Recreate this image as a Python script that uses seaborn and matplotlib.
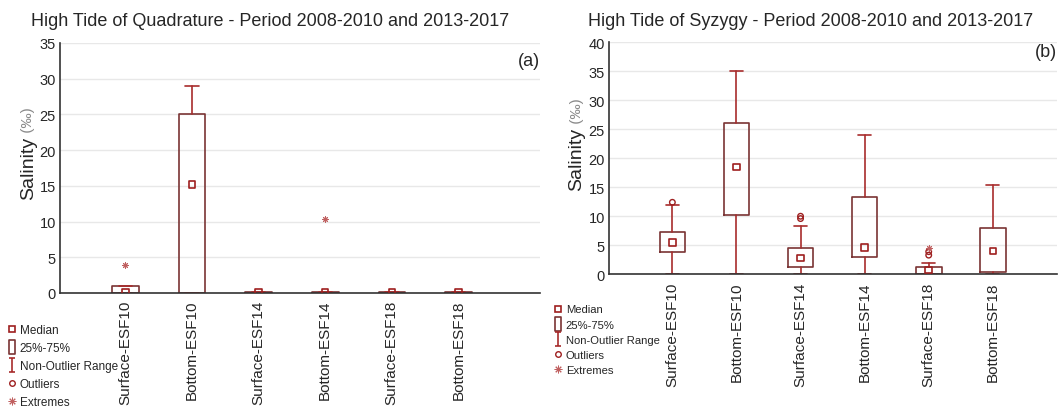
import matplotlib
matplotlib.use('Agg')
import matplotlib.pyplot as plt
from matplotlib.lines import Line2D
from matplotlib.path import Path
import seaborn as sns

# station / depth categories (same for both panels)
categories = ['Surface-ESF10', 'Bottom-ESF10', 'Surface-ESF14',
              'Bottom-ESF14', 'Surface-ESF18', 'Bottom-ESF18']

# (a) high tide of quadrature
quad_q1 = [0.0, 0.0, 0.0, 0.0, 0.0, 0.0]
quad_q3 = [1.0, 25.0, 0.15, 0.15, 0.15, 0.15]
quad_med = [0.15, 15.2, 0.1, 0.1, 0.1, 0.1]
quad_whislo = [0.0, 0.0, 0.0, 0.0, 0.0, 0.0]
quad_whishi = [1.0, 28.9, 0.15, 0.15, 0.15, 0.15]
quad_out_pos = []
quad_out_val = []
quad_ext_pos = [0, 3]
quad_ext_val = [3.9, 10.4]

# (b) high tide of syzygy
syz_q1 = [3.9, 10.3, 1.25, 2.9, 0.0, 0.35]
syz_q3 = [7.35, 26.0, 4.5, 13.3, 1.2, 7.9]
syz_med = [5.45, 18.5, 2.8, 4.65, 0.75, 4.05]
syz_whislo = [0.0, 0.0, 0.0, 0.0, 0.0, 0.0]
syz_whishi = [11.9, 35.0, 8.4, 24.0, 2.0, 15.3]
syz_out_pos = [0, 2, 2, 4, 4]
syz_out_val = [12.4, 9.6, 10.0, 3.3, 3.9]
syz_ext_pos = [4]
syz_ext_val = [4.6]

BOX_COLOR = '#7a3434'
WHISK_COLOR = '#a82c2c'
MED_COLOR = '#9e1f1f'
EXT_COLOR = '#c06060'

sns.set_style('white')
plt.rcParams['font.family'] = ['Liberation Sans', 'DejaVu Sans']

fig = plt.figure(figsize=(10.59, 4.10), dpi=100)
ax_a = fig.add_axes([0.0567, 0.283, 0.453, 0.61])
ax_b = fig.add_axes([0.575, 0.3285, 0.423, 0.5665])


def draw_panel(ax, q1, q3, med, wlo, whi, out_pos, out_val, ext_pos, ext_val, ymax):
    pos = list(range(len(categories)))
    stats = []
    for i in pos:
        stats.append(dict(med=med[i], q1=q1[i], q3=q3[i], whislo=wlo[i], whishi=whi[i], fliers=[]))
    ax.bxp(stats, positions=pos, widths=0.4, capwidths=0.2, showfliers=False,
           boxprops=dict(color=BOX_COLOR, linewidth=1.2),
           whiskerprops=dict(color=WHISK_COLOR, linewidth=1.2),
           capprops=dict(color=WHISK_COLOR, linewidth=1.2),
           medianprops=dict(linewidth=0))
    sns.scatterplot(x=pos, y=med, ax=ax, marker='s', s=22, facecolor='none',
                    edgecolor=MED_COLOR, linewidth=1.2, zorder=4)
    if out_pos:
        sns.scatterplot(x=out_pos, y=out_val, ax=ax, marker='o', s=16, facecolor='none',
                        edgecolor=MED_COLOR, linewidth=1.0, zorder=4)
    if ext_pos:
        sns.scatterplot(x=ext_pos, y=ext_val, ax=ax, marker=(8, 2, 0), s=18,
                        color=EXT_COLOR, linewidth=0.7, zorder=4)

    ax.set_ylim(0, ymax)
    ax.set_yticks(range(0, ymax + 1, 5))
    ax.set_xticks(pos)
    ax.set_xticklabels(categories, rotation=90, fontsize=11)
    ax.tick_params(axis='y', labelsize=10.5, direction='in', length=3, pad=3)
    ax.tick_params(axis='x', direction='in', length=3, pad=5)
    ax.yaxis.grid(True, color='#e8e8e8', linewidth=1)
    ax.set_axisbelow(True)
    for side in ['top', 'right']:
        ax.spines[side].set_visible(False)
    for side in ['left', 'bottom']:
        ax.spines[side].set_color('#333333')
        ax.spines[side].set_linewidth(1.2)

    lab = ax.set_ylabel('Salinity', fontsize=14, labelpad=2)
    ax.annotate(' (‰)', xy=(0.5, 1.0), xycoords=lab, ha='center', va='bottom',
                rotation=90, fontsize=11, color='#8a8a8a')


draw_panel(ax_a, quad_q1, quad_q3, quad_med, quad_whislo, quad_whishi,
           quad_out_pos, quad_out_val, quad_ext_pos, quad_ext_val, 35)
ax_a.set_xlim(-0.98, 6.22)
draw_panel(ax_b, syz_q1, syz_q3, syz_med, syz_whislo, syz_whishi,
           syz_out_pos, syz_out_val, syz_ext_pos, syz_ext_val, 40)
ax_b.set_xlim(-0.99, 6.0)

fig.text(270 / 1059, 1 - 22 / 410, 'High Tide of Quadrature - Period 2008-2010 and 2013-2017',
         ha='center', va='center', fontsize=13)
fig.text(811 / 1059, 1 - 22 / 410, 'High Tide of Syzygy - Period 2008-2010 and 2013-2017',
         ha='center', va='center', fontsize=13)
ax_a.text(1.0, 0.93, '(a)', transform=ax_a.transAxes, ha='right', va='center', fontsize=13)
ax_b.text(1.0, 0.96, '(b)', transform=ax_b.transAxes, ha='right', va='center', fontsize=13)

# legend handles (statistica style key)
ibeam = Path([(-0.5, 1), (0.5, 1), (0, 1), (0, -1), (-0.5, -1), (0.5, -1)],
             [Path.MOVETO, Path.LINETO, Path.MOVETO, Path.LINETO, Path.MOVETO, Path.LINETO])
tallbox = Path([(-0.5, -1), (0.5, -1), (0.5, 1), (-0.5, 1), (-0.5, -1)],
               [Path.MOVETO, Path.LINETO, Path.LINETO, Path.LINETO, Path.CLOSEPOLY])
handles = [
    Line2D([], [], ls='none', marker='s', ms=4.5, mfc='none', mec=MED_COLOR, mew=1.2),
    Line2D([], [], ls='none', marker=tallbox, ms=9.5, mfc='none', mec=BOX_COLOR, mew=1.2),
    Line2D([], [], ls='none', marker=ibeam, ms=9.5, mfc='none', mec=WHISK_COLOR, mew=1.2),
    Line2D([], [], ls='none', marker='o', ms=4, mfc='none', mec=MED_COLOR, mew=1.0),
    Line2D([], [], ls='none', marker=(8, 2, 0), ms=5.5, mec=EXT_COLOR, mew=0.7),
]
labels = ['Median', '25%-75%', 'Non-Outlier Range', 'Outliers', 'Extremes']
for anchor, size, spacing in [((0.006, 0.207), 8.5, 0.5), ((0.522, 0.255), 8.1, 0.46)]:
    fig.legend(handles, labels, loc='upper left', bbox_to_anchor=anchor, frameon=False,
               fontsize=size, handlelength=0.9, handletextpad=0.25, labelspacing=spacing,
               borderpad=0, borderaxespad=0)

fig.savefig('out.png', dpi=100)
